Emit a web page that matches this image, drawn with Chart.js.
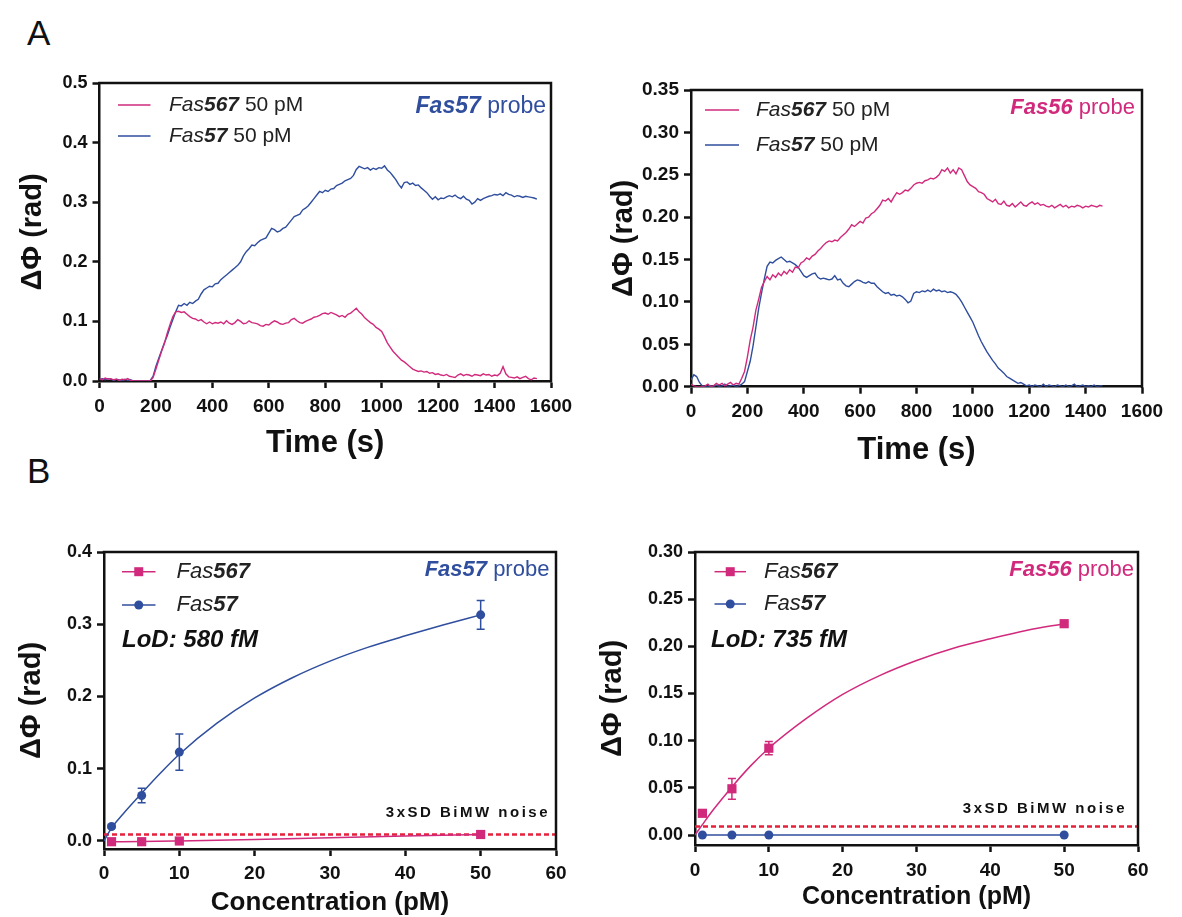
<!DOCTYPE html>
<html>
<head>
<meta charset="utf-8">
<script src="https://cdn.jsdelivr.net/npm/chart.js@4.4.1/dist/chart.umd.min.js"></script>
<style>
  body { margin: 0; background: #fff; width: 1182px; height: 917px; position: relative; overflow: hidden; font-family: "Liberation Sans", Arial, sans-serif; }
  canvas { position: absolute; }
  .letter { position: absolute; font-size: 35px; line-height: 1; color: #111; }
</style>
</head>
<body>
<div class="letter" style="left:27px;top:15px">A</div>
<div class="letter" style="left:27px;top:453px">B</div>
<canvas id="kineticsFas57"></canvas>
<canvas id="kineticsFas56"></canvas>
<canvas id="doseFas57"></canvas>
<canvas id="doseFas56"></canvas>
<script>
// ---- panel A, Fas57 probe: time (s) and phase shift (rad) ----
const timeA1 = [
  0,10,20,30,40,50,60,70,80,90,
  100,110,120,130,140,150,160,170,180,190,
  200,210,220,230,240,250,260,270,280,290,
  300,310,320,330,340,350,360,370,380,390,
  400,410,420,430,440,450,460,470,480,490,
  500,510,520,530,540,550,560,570,580,590,
  600,610,620,630,640,650,660,670,680,690,
  700,710,720,730,740,750,760,770,780,790,
  800,810,820,830,840,850,860,870,880,890,
  900,910,920,930,940,950,960,970,980,990,
  1000,1010,1020,1030,1040,1050,1060,1070,1080,1090,
  1100,1110,1120,1130,1140,1150,1160,1170,1180,1190,
  1200,1210,1220,1230,1240,1250,1260,1270,1280,1290,
  1300,1310,1320,1330,1340,1350,1360,1370,1380,1390,
  1400,1410,1420,1430,1440,1450,1460,1470,1480,1490,
  1500,1510,1520,1530,1540,1550
];
const fas567A1 = [
  0.004,0.002,0.005,0.003,0.004,0.002,0.003,0.001,0.003,0.002,
  0.004,0.001,0.000,0.000,0.000,0.000,0.000,0.000,0.000,0.006,
  0.020,0.035,0.050,0.063,0.080,0.095,0.108,0.116,0.117,0.115,
  0.116,0.112,0.108,0.105,0.104,0.101,0.103,0.099,0.096,0.099,
  0.096,0.098,0.097,0.099,0.096,0.101,0.097,0.095,0.098,0.103,
  0.100,0.096,0.097,0.101,0.098,0.097,0.096,0.093,0.092,0.095,
  0.094,0.098,0.101,0.099,0.096,0.095,0.097,0.098,0.103,0.105,
  0.101,0.098,0.097,0.100,0.102,0.104,0.107,0.108,0.110,0.113,
  0.114,0.112,0.115,0.113,0.111,0.108,0.110,0.107,0.112,0.114,
  0.118,0.122,0.116,0.112,0.106,0.102,0.098,0.095,0.090,0.087,
  0.083,0.074,0.064,0.057,0.050,0.045,0.040,0.035,0.032,0.028,
  0.024,0.020,0.018,0.016,0.017,0.015,0.016,0.013,0.014,0.011,
  0.012,0.010,0.009,0.011,0.008,0.007,0.006,0.010,0.012,0.009,
  0.011,0.010,0.008,0.011,0.010,0.009,0.012,0.010,0.011,0.008,
  0.010,0.009,0.013,0.024,0.012,0.007,0.006,0.005,0.007,0.004,
  0.006,0.008,0.004,0.002,0.005,0.004
];
const fas57A1 = [
  0.003,0.004,0.002,0.004,0.003,0.001,0.003,0.002,0.000,0.003,
  0.001,0.002,0.000,0.000,0.000,0.000,0.000,0.000,0.001,0.008,
  0.025,0.038,0.051,0.064,0.076,0.090,0.103,0.116,0.127,0.126,
  0.130,0.127,0.132,0.130,0.134,0.137,0.146,0.153,0.156,0.159,
  0.158,0.163,0.164,0.170,0.174,0.178,0.182,0.186,0.190,0.194,
  0.200,0.210,0.217,0.222,0.228,0.227,0.232,0.236,0.238,0.240,
  0.248,0.256,0.254,0.250,0.252,0.256,0.258,0.264,0.270,0.276,
  0.278,0.280,0.287,0.290,0.294,0.300,0.306,0.312,0.318,0.316,
  0.320,0.318,0.322,0.323,0.328,0.330,0.332,0.336,0.338,0.340,
  0.345,0.355,0.360,0.358,0.356,0.358,0.354,0.357,0.355,0.358,
  0.357,0.361,0.354,0.350,0.344,0.338,0.330,0.324,0.333,0.334,
  0.330,0.332,0.328,0.329,0.324,0.320,0.316,0.310,0.305,0.309,
  0.304,0.307,0.306,0.309,0.311,0.309,0.312,0.308,0.306,0.310,
  0.305,0.303,0.297,0.300,0.306,0.303,0.306,0.308,0.310,0.311,
  0.313,0.312,0.314,0.311,0.316,0.313,0.312,0.309,0.311,0.310,
  0.308,0.310,0.309,0.308,0.307,0.305
];

// ---- panel A, Fas56 probe ----
const timeA2 = timeA1.slice(0, 147);
const fas567A2 = [
  0.003,0.001,0.000,0.000,0.000,0.001,0.003,0.000,0.001,0.004,
  0.002,0.004,0.001,0.003,0.005,0.002,0.004,0.003,0.010,0.018,
  0.035,0.055,0.070,0.090,0.103,0.117,0.124,0.130,0.126,0.132,
  0.129,0.134,0.131,0.136,0.133,0.138,0.135,0.141,0.140,0.146,
  0.148,0.152,0.150,0.154,0.156,0.160,0.163,0.167,0.170,0.172,
  0.171,0.173,0.172,0.176,0.179,0.182,0.186,0.191,0.189,0.192,
  0.195,0.193,0.199,0.200,0.204,0.206,0.210,0.214,0.220,0.219,
  0.222,0.218,0.224,0.229,0.227,0.229,0.232,0.231,0.234,0.238,
  0.240,0.241,0.240,0.243,0.244,0.246,0.245,0.247,0.250,0.256,
  0.254,0.258,0.252,0.256,0.251,0.258,0.256,0.249,0.242,0.238,
  0.236,0.234,0.230,0.229,0.227,0.222,0.220,0.218,0.221,0.216,
  0.215,0.219,0.214,0.213,0.216,0.212,0.215,0.218,0.214,0.213,
  0.216,0.218,0.215,0.217,0.214,0.215,0.213,0.212,0.214,0.211,
  0.213,0.215,0.212,0.214,0.211,0.213,0.212,0.214,0.213,0.211,
  0.213,0.212,0.214,0.213,0.212,0.214,0.213
];
const fas57A2 = [
  0.008,0.014,0.012,0.005,0.001,0.000,0.000,0.001,0.000,0.002,
  0.000,0.001,0.003,0.000,0.001,0.002,0.000,0.001,0.003,0.006,
  0.018,0.030,0.048,0.070,0.092,0.110,0.127,0.142,0.147,0.146,
  0.149,0.151,0.153,0.150,0.147,0.148,0.146,0.144,0.141,0.136,
  0.131,0.129,0.131,0.133,0.134,0.129,0.127,0.128,0.127,0.126,
  0.127,0.131,0.126,0.127,0.122,0.119,0.118,0.121,0.124,0.126,
  0.125,0.123,0.122,0.124,0.122,0.122,0.118,0.115,0.112,0.110,
  0.111,0.108,0.109,0.107,0.108,0.106,0.103,0.099,0.101,0.110,
  0.112,0.111,0.113,0.112,0.114,0.112,0.115,0.113,0.114,0.112,
  0.113,0.111,0.112,0.111,0.109,0.105,0.100,0.094,0.088,0.082,
  0.076,0.068,0.060,0.053,0.047,0.041,0.036,0.031,0.027,0.022,
  0.019,0.016,0.012,0.010,0.008,0.006,0.004,0.005,0.003,0.001,
  0.002,0.000,0.002,0.001,0.000,0.003,0.000,0.002,0.001,0.000,
  0.002,0.001,0.000,0.002,0.000,0.001,0.003,0.000,0.001,0.002,
  0.000,0.001,0.000,0.002,0.000,0.001,0.001
];

// ---- panel B, concentration (pM) ----
const concB = [1, 5, 10, 50];
const fas567B1 = [-0.001, -0.001, 0.000, 0.009];
const fas567B1Err = [0, 0, 0, 0.001];
const fas57B1 = [0.020, 0.063, 0.123, 0.313];
const fas57B1Err = [0.002, 0.010, 0.025, 0.020];
const fitConc = [0, 1, 2.5, 5, 7.5, 10, 15, 20, 25, 30, 35, 40, 45, 50];
const fas57FitB1 = [0, 0.018, 0.037, 0.066, 0.094, 0.120, 0.163, 0.198, 0.226, 0.249, 0.268, 0.284, 0.299, 0.313];
const fitConcLowB1 = [1, 5, 10, 20, 30, 40, 50];
const fas567FitB1 = [-0.001, -0.0007, 0.0001, 0.002, 0.0045, 0.0068, 0.009];
const fas567B2 = [0.023, 0.049, 0.092, 0.224];
const fas567B2Err = [0.002, 0.011, 0.007, 0.002];
const fas57B2 = [0.000, 0.000, 0.000, 0.000];
const fas567FitB2 = [0, 0.011, 0.027, 0.051, 0.073, 0.092, 0.123, 0.149, 0.169, 0.185, 0.198, 0.208, 0.217, 0.224];
const fitConcLowB2 = [1, 50];
const fas57FitB2 = [0.000, 0.000];
const noiseB1 = 0.009;
const noiseB2 = 0.009;
const noiseRange = [0, 60];

// ---- tick values ----
const timeTicks = [0, 200, 400, 600, 800, 1000, 1200, 1400, 1600];
const yTicksA1 = [0, 0.1, 0.2, 0.3, 0.4, 0.5];
const yTicksA2 = [0, 0.05, 0.10, 0.15, 0.20, 0.25, 0.30, 0.35];
const concTicks = [0, 10, 20, 30, 40, 50, 60];
const yTicksB1 = [0, 0.1, 0.2, 0.3, 0.4];
const yTicksB2 = [0, 0.05, 0.10, 0.15, 0.20, 0.25, 0.30];

const FONT = '"Liberation Sans", Arial, Helvetica, sans-serif';
const BLUE = '#2f4e9e';
const PINK = '#d12a7c';
const RED = '#e5213c';
const INK = '#111';

const pts = (xs, ys) => xs.map((x, i) => ({ x: x, y: ys[i] }));

function drawParts(ctx, parts, x, y, size, color, align) {
  const fonts = parts.map(p => `${p[1]} ${size}px ${FONT}`);
  let w = 0;
  parts.forEach((p, i) => { ctx.font = fonts[i]; w += ctx.measureText(p[0]).width; });
  let cx = align === 'right' ? x - w : x;
  ctx.fillStyle = color;
  ctx.textAlign = 'left';
  ctx.textBaseline = 'middle';
  parts.forEach((p, i) => {
    ctx.font = fonts[i];
    ctx.fillText(p[0], cx, y);
    cx += ctx.measureText(p[0]).width;
  });
}

const decorPlugin = {
  id: 'decor',
  afterDatasetsDraw(chart, args, o) {
    const { ctx, scales: { x, y } } = chart;
    (o.errorBars || []).forEach(eb => {
      const ds = chart.data.datasets[eb.dataset];
      ctx.save();
      ctx.strokeStyle = ds.borderColor;
      ctx.lineWidth = 1.5;
      ds.data.forEach((p, i) => {
        const e = eb.err[i];
        if (!e) return;
        const px = x.getPixelForValue(p.x);
        const y1 = y.getPixelForValue(p.y - e);
        const y2 = y.getPixelForValue(p.y + e);
        ctx.beginPath();
        ctx.moveTo(px, y1); ctx.lineTo(px, y2);
        ctx.moveTo(px - 4, y1); ctx.lineTo(px + 4, y1);
        ctx.moveTo(px - 4, y2); ctx.lineTo(px + 4, y2);
        ctx.stroke();
      });
      ctx.restore();
    });
  },
  afterDraw(chart, args, o) {
    const { ctx, chartArea: a, scales: { y } } = chart;
    ctx.save();
    // box: top and right edges
    ctx.strokeStyle = INK;
    ctx.lineWidth = 2.5;
    ctx.beginPath();
    ctx.moveTo(a.left - 1.25, a.top);
    ctx.lineTo(a.right, a.top);
    ctx.lineTo(a.right, a.bottom + 1.25);
    ctx.stroke();

    // legend
    const lg = o.legend;
    lg.items.forEach(it => {
      const ly = a.top + it.dy;
      ctx.strokeStyle = it.color;
      ctx.lineWidth = 1.5;
      ctx.beginPath();
      ctx.moveTo(a.left + lg.x1, ly);
      ctx.lineTo(a.left + lg.x2, ly);
      ctx.stroke();
      const mx = a.left + (lg.x1 + lg.x2) / 2;
      ctx.fillStyle = it.color;
      if (it.marker === 'rect') ctx.fillRect(mx - 4.5, ly - 4.5, 9, 9);
      if (it.marker === 'circle') { ctx.beginPath(); ctx.arc(mx, ly, 4.5, 0, Math.PI * 2); ctx.fill(); }
      drawParts(ctx, it.parts, a.left + lg.tx, ly, lg.size, '#222', 'left');
    });

    // probe name
    const pr = o.probe;
    drawParts(ctx, pr.parts, a.right - pr.dx, a.top + pr.dy, pr.size, pr.color, 'right');

    // limit of detection
    if (o.lod) drawParts(ctx, [[o.lod.text, 'italic bold']], a.left + o.lod.dx, a.top + o.lod.dy, o.lod.size, INK, 'left');

    // noise label
    if (o.noise) {
      ctx.font = `bold ${o.noise.size}px ${FONT}`;
      ctx.letterSpacing = o.noise.spacing;
      ctx.fillStyle = INK;
      ctx.textAlign = 'right';
      ctx.textBaseline = 'middle';
      ctx.fillText(o.noise.text, a.right - o.noise.dx, y.getPixelForValue(o.noise.value) - o.noise.above);
      ctx.letterSpacing = '0px';
    }
    ctx.restore();
  }
};

function makePanel(id, box, area, cfg) {
  const cv = document.getElementById(id);
  cv.width = box.w; cv.height = box.h;
  cv.style.left = box.x + 'px';
  cv.style.top = box.y + 'px';
  const yW = area.l - box.x;
  const xH = cfg.xH;
  const xTitleLH = cfg.xTitleSize * 1.2;
  const yTitleLH = cfg.yTitleSize * 1.2;
  return new Chart(cv, {
    type: 'line',
    data: { datasets: cfg.datasets },
    options: {
      responsive: false,
      animation: false,
      events: [],
      layout: {
        padding: {
          left: 0,
          top: area.t - box.y,
          right: box.x + box.w - area.r,
          bottom: box.y + box.h - area.b - xH
        }
      },
      plugins: { legend: { display: false }, tooltip: { enabled: false }, decor: cfg.decor },
      scales: {
        x: {
          type: 'linear',
          min: cfg.xMin, max: cfg.xMax,
          afterFit: s => { s.height = xH; },
          afterBuildTicks: s => { s.ticks = cfg.xTicks.map(v => ({ value: v })); },
          grid: { drawOnChartArea: false, drawTicks: true, tickLength: 7, tickWidth: 2.5, tickColor: INK },
          border: { display: true, color: INK, width: 2.5 },
          ticks: {
            font: { family: FONT, size: cfg.xTickSize, weight: 'bold' }, color: INK,
            padding: cfg.xTickPad, maxRotation: 0, autoSkip: false, callback: v => String(v)
          },
          title: {
            display: true, text: cfg.xTitle, color: INK,
            font: { family: FONT, size: cfg.xTitleSize, weight: 'bold', lineHeight: 1.2 },
            padding: { top: 0, bottom: area.b + xH - cfg.xTitleY - xTitleLH / 2 }
          }
        },
        y: {
          min: cfg.yMin, max: cfg.yMax,
          afterFit: s => { s.width = yW; },
          afterBuildTicks: s => { s.ticks = cfg.yTicks.map(v => ({ value: v })); },
          grid: { drawOnChartArea: false, drawTicks: true, tickLength: 7, tickWidth: 2.5, tickColor: INK },
          border: { display: true, color: INK, width: 2.5 },
          ticks: {
            font: { family: FONT, size: cfg.yTickSize, weight: 'bold' }, color: INK,
            padding: 5, callback: v => v.toFixed(cfg.yDigits)
          },
          title: {
            display: true, text: 'ΔΦ (rad)', color: INK,
            font: { family: FONT, size: cfg.yTitleSize, weight: 'bold', lineHeight: 1.2 },
            padding: { top: cfg.yTitleX - box.x - yTitleLH / 2, bottom: 0 }
          }
        }
      }
    },
    plugins: [decorPlugin]
  });
}

const traceStyle = (color) => ({ borderColor: color, backgroundColor: color, borderWidth: 1.4, pointRadius: 0, tension: 0, fill: false });

const legendA = (lx1, lx2, tx, d1, d2) => ({
  x1: lx1, x2: lx2, tx: tx, size: 21,
  items: [
    { color: PINK, dy: d1, parts: [['Fas', 'italic'], ['567', 'italic bold'], [' 50 pM', '']] },
    { color: BLUE, dy: d2, parts: [['Fas', 'italic'], ['57', 'italic bold'], [' 50 pM', '']] }
  ]
});
const legendB = (lx1, lx2, tx, d1, d2) => ({
  x1: lx1, x2: lx2, tx: tx, size: 22,
  items: [
    { color: PINK, dy: d1, marker: 'rect', parts: [['Fas', 'italic'], ['567', 'italic bold']] },
    { color: BLUE, dy: d2, marker: 'circle', parts: [['Fas', 'italic'], ['57', 'italic bold']] }
  ]
});

// A, Fas57 probe
makePanel('kineticsFas57', { x: 0, y: 60, w: 585, h: 420 }, { l: 99.5, t: 83, r: 551, b: 381 }, {
  xMin: 0, xMax: 1600, xTicks: timeTicks, xTitle: 'Time (s)', xTitleSize: 31, xTitleY: 443, xH: 80, xTickPad: 7, xTickSize: 19,
  yMin: 0, yMax: 0.5, yTicks: yTicksA1, yDigits: 1, yTickSize: 18, yTitleSize: 29, yTitleX: 33,
  datasets: [
    Object.assign({ label: 'Fas567 50 pM', data: pts(timeA1, fas567A1) }, traceStyle(PINK)),
    Object.assign({ label: 'Fas57 50 pM', data: pts(timeA1, fas57A1) }, traceStyle(BLUE))
  ],
  decor: {
    legend: legendA(18.5, 51, 69.5, 22, 53),
    probe: { parts: [['Fas57', 'italic bold'], [' probe', '']], color: BLUE, dx: 5, dy: 24, size: 23 }
  }
});

// A, Fas56 probe
makePanel('kineticsFas56', { x: 590, y: 60, w: 592, h: 420 }, { l: 691, t: 90, r: 1142, b: 386.7 }, {
  xMin: 0, xMax: 1600, xTicks: timeTicks, xTitle: 'Time (s)', xTitleSize: 31, xTitleY: 450, xH: 80, xTickPad: 7, xTickSize: 19,
  yMin: 0, yMax: 0.35, yTicks: yTicksA2, yDigits: 2, yTickSize: 19, yTitleSize: 29, yTitleX: 624,
  datasets: [
    Object.assign({ label: 'Fas567 50 pM', data: pts(timeA2, fas567A2) }, traceStyle(PINK)),
    Object.assign({ label: 'Fas57 50 pM', data: pts(timeA2, fas57A2) }, traceStyle(BLUE))
  ],
  decor: {
    legend: legendA(14, 48, 65, 20, 55),
    probe: { parts: [['Fas56', 'italic bold'], [' probe', '']], color: PINK, dx: 7, dy: 18, size: 22 }
  }
});

// B, Fas57 probe
makePanel('doseFas57', { x: 0, y: 520, w: 585, h: 397 }, { l: 104, t: 552, r: 556, b: 849 }, {
  xMin: 0, xMax: 60, xTicks: concTicks, xTitle: 'Concentration (pM)', xTitleSize: 26, xTitleY: 903, xH: 68, xTickPad: 6, xTickSize: 19,
  yMin: -0.0111, yMax: 0.4, yTicks: yTicksB1, yDigits: 1, yTickSize: 18, yTitleSize: 29, yTitleX: 32,
  datasets: [
    { label: 'Fas567', data: pts(concB, fas567B1), showLine: false, pointStyle: 'rect', pointRadius: 6.5, borderWidth: 0, backgroundColor: PINK, borderColor: PINK },
    { label: 'Fas57', data: pts(concB, fas57B1), showLine: false, pointStyle: 'circle', pointRadius: 4.5, borderWidth: 0, backgroundColor: BLUE, borderColor: BLUE },
    { label: 'Fas567 fit', data: pts(fitConcLowB1, fas567FitB1), borderColor: PINK, borderWidth: 1.5, pointRadius: 0, cubicInterpolationMode: 'monotone' },
    { label: 'Fas57 fit', data: pts(fitConc, fas57FitB1), borderColor: BLUE, borderWidth: 1.5, pointRadius: 0, cubicInterpolationMode: 'monotone' },
    { label: '3xSD BiMW noise', data: pts(noiseRange, [noiseB1, noiseB1]), borderColor: RED, borderWidth: 2.5, borderDash: [5, 3], pointRadius: 0 }
  ],
  decor: {
    errorBars: [{ dataset: 0, err: fas567B1Err }, { dataset: 1, err: fas57B1Err }],
    legend: legendB(18, 51.5, 72.6, 19.7, 53),
    probe: { parts: [['Fas57', 'italic bold'], [' probe', '']], color: BLUE, dx: 6.6, dy: 18, size: 22 },
    lod: { text: 'LoD: 580 fM', dx: 18, dy: 88, size: 24 },
    noise: { text: '3xSD BiMW noise', value: noiseB1, dx: 6, above: 22, size: 15, spacing: '2.5px' }
  }
});

// B, Fas56 probe
makePanel('doseFas56', { x: 590, y: 520, w: 592, h: 397 }, { l: 695, t: 552, r: 1138, b: 845 }, {
  xMin: 0, xMax: 60, xTicks: concTicks, xTitle: 'Concentration (pM)', xTitleSize: 25, xTitleY: 897, xH: 72, xTickPad: 7, xTickSize: 19,
  yMin: -0.0106, yMax: 0.30, yTicks: yTicksB2, yDigits: 2, yTickSize: 18, yTitleSize: 29, yTitleX: 613,
  datasets: [
    { label: 'Fas567', data: pts(concB, fas567B2), showLine: false, pointStyle: 'rect', pointRadius: 6.5, borderWidth: 0, backgroundColor: PINK, borderColor: PINK },
    { label: 'Fas57', data: pts(concB, fas57B2), showLine: false, pointStyle: 'circle', pointRadius: 4.5, borderWidth: 0, backgroundColor: BLUE, borderColor: BLUE },
    { label: 'Fas567 fit', data: pts(fitConc, fas567FitB2), borderColor: PINK, borderWidth: 1.5, pointRadius: 0, cubicInterpolationMode: 'monotone' },
    { label: 'Fas57 fit', data: pts(fitConcLowB2, fas57FitB2), borderColor: BLUE, borderWidth: 1.5, pointRadius: 0 },
    { label: '3xSD BiMW noise', data: pts(noiseRange, [noiseB2, noiseB2]), borderColor: RED, borderWidth: 2.5, borderDash: [5, 3], pointRadius: 0 }
  ],
  decor: {
    errorBars: [{ dataset: 0, err: fas567B2Err }],
    legend: legendB(19.5, 51, 69, 19.7, 52),
    probe: { parts: [['Fas56', 'italic bold'], [' probe', '']], color: PINK, dx: 4, dy: 18, size: 22 },
    lod: { text: 'LoD: 735 fM', dx: 16, dy: 88, size: 24 },
    noise: { text: '3xSD BiMW noise', value: noiseB2, dx: 11, above: 17.5, size: 15, spacing: '2.5px' }
  }
});
</script>
</body>
</html>
